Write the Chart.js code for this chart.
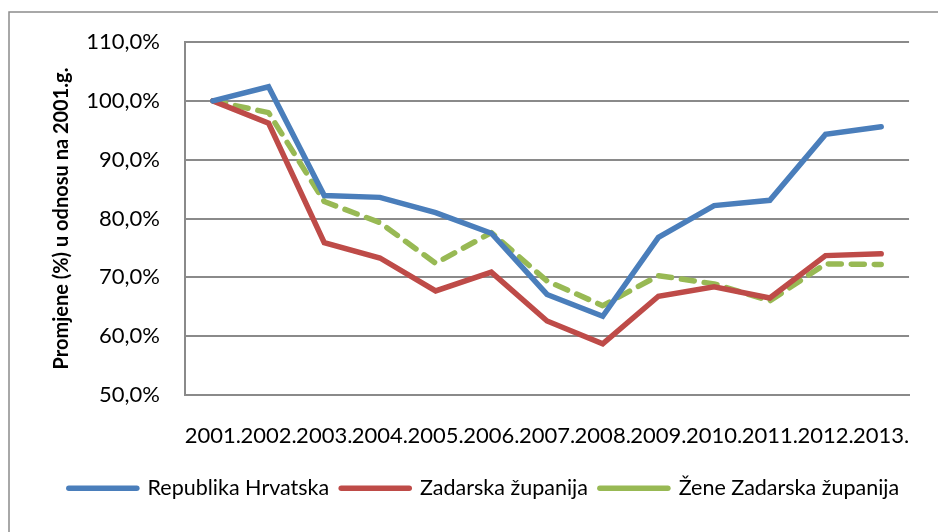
<!DOCTYPE html>
<html>
<head>
<meta charset="utf-8">
<script src="https://cdn.jsdelivr.net/npm/chart.js@4/dist/chart.umd.min.js"></script>
<style>
  html, body { margin: 0; padding: 0; background: #fff; overflow: hidden; }
  #wrap { width: 938px; height: 532px; position: relative; }
</style>
</head>
<body>
<div id="wrap"><canvas id="c" width="938" height="532"></canvas></div>
<script>
const categories = ['2001.', '2002.', '2003.', '2004.', '2005.', '2006.', '2007.', '2008.', '2009.', '2010.', '2011.', '2012.', '2013.'];
const republikaHrvatska = [100.0, 102.4, 83.9, 83.6, 81.0, 77.5, 67.1, 63.4, 76.8, 82.2, 83.1, 94.3, 95.6];
const zadarskaZupanija = [100.0, 96.2, 75.9, 73.3, 67.7, 70.9, 62.6, 58.7, 66.8, 68.4, 66.5, 73.7, 74.0];
const zeneZadarskaZupanija = [100.0, 98.0, 82.9, 79.3, 72.4, 77.6, 69.4, 65.2, 70.3, 68.9, 66.0, 72.3, 72.2];
const yTicks = { min: 50, max: 110, step: 10 };
const yTitle = 'Promjene (%) u odnosu na 2001.g.';
const seriesNames = ['Republika Hrvatska', 'Zadarska županija', 'Žene Zadarska županija'];

Chart.defaults.font.family = 'Lato, "Open Sans", sans-serif';
Chart.defaults.color = '#000';

const GRID = '#8a8a8a';

const borderPlugin = {
  id: 'outerBorder',
  beforeDraw(chart) {
    const ctx = chart.ctx;
    ctx.save();
    ctx.fillStyle = '#fff';
    ctx.fillRect(0, 0, chart.width, chart.height);
    ctx.strokeStyle = '#8c8c8c';
    ctx.lineWidth = 1.5;
    ctx.strokeRect(9, 12, 1200, 1200);
    ctx.restore();
  }
};

new Chart(document.getElementById('c'), {
  type: 'line',
  data: {
    labels: categories,
    datasets: [
      {
        label: seriesNames[0],
        data: republikaHrvatska,
        borderColor: '#4A7EBB',
        backgroundColor: '#4A7EBB',
        borderWidth: 5.5,
        borderCapStyle: 'round',
        borderJoinStyle: 'miter',
        pointRadius: 0,
        tension: 0
      },
      {
        label: seriesNames[1],
        data: zadarskaZupanija,
        borderColor: '#BE4B48',
        backgroundColor: '#BE4B48',
        borderWidth: 5.5,
        borderCapStyle: 'round',
        borderJoinStyle: 'miter',
        pointRadius: 0,
        tension: 0
      },
      {
        label: seriesNames[2],
        data: zeneZadarskaZupanija,
        borderColor: '#98B954',
        backgroundColor: '#98B954',
        borderWidth: 5.5,
        borderDash: [13, 10],
        borderCapStyle: 'round',
        borderJoinStyle: 'round',
        pointRadius: 0,
        tension: 0
      }
    ]
  },
  options: {
    responsive: false,
    animation: false,
    events: [],
    layout: { padding: { left: 30, right: 0, top: 42, bottom: 23 } },
    plugins: {
      tooltip: { enabled: false },
      legend: {
        position: 'bottom',
        labels: {
          usePointStyle: true,
          pointStyleWidth: 68,
          boxHeight: 21.5,
          padding: 12,
          font: { size: 21.5 },
          color: '#000',
          generateLabels(chart) {
            const items = Chart.defaults.plugins.legend.labels.generateLabels(chart);
            items.forEach(it => { it.pointStyle = 'line'; it.lineCap = 'round'; it.lineWidth = 5.5; if (it.lineDash && it.lineDash.length) it.lineDash = [9, 8]; });
            return items;
          }
        }
      }
    },
    scales: {
      x: {
        offset: true,
        grid: { display: false, drawTicks: false },
        border: { display: true, color: GRID, width: 2 },
        ticks: { autoSkip: false, maxRotation: 0, minRotation: 0, padding: 28, font: { size: 22 }, color: '#000' },
        afterFit(s) { s.height -= 12; }
      },
      y: {
        min: yTicks.min,
        max: yTicks.max,
        grid: { color: GRID, lineWidth: 2, drawTicks: false },
        border: { display: true, color: GRID, width: 2 },
        ticks: {
          stepSize: yTicks.step,
          padding: 25,
          font: { size: 22 },
          color: '#000',
          callback: v => v.toFixed(1).replace('.', ',') + '%'
        },
        title: {
          display: true,
          text: yTitle,
          font: { size: 20, weight: 'bold' },
          color: '#000',
          padding: { top: 20, bottom: 0 }
        },
        afterFit(s) { s.width = 155; }
      },
      y2: {
        position: 'right',
        display: true,
        grid: { display: false, drawTicks: false },
        border: { display: false },
        ticks: { display: false },
        afterFit(s) { s.width = 18; }
      }
    }
  },
  plugins: [borderPlugin]
});
</script>
</body>
</html>
